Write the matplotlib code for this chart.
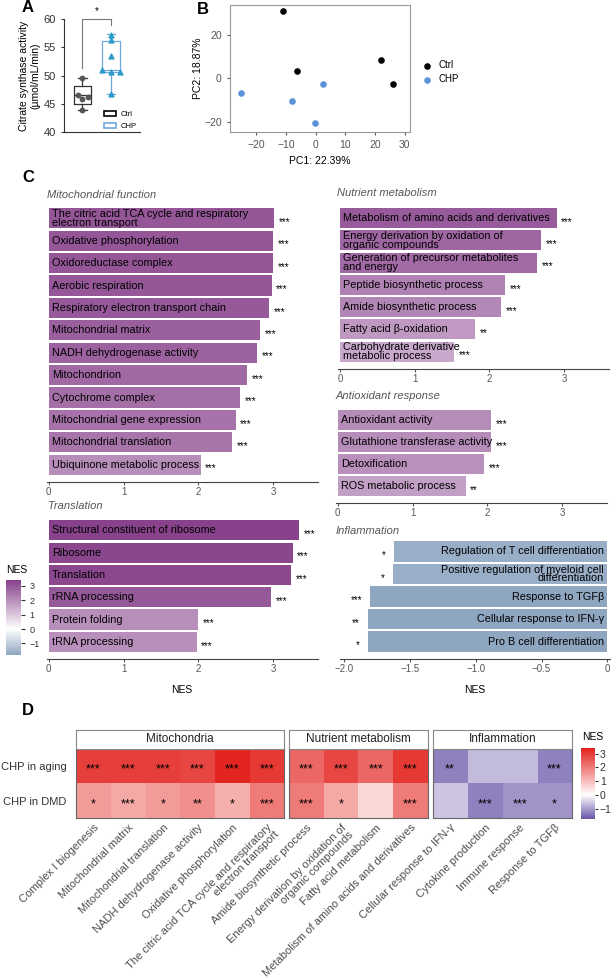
import numpy as np
import matplotlib
matplotlib.use("Agg")
import matplotlib.pyplot as plt
from matplotlib.colors import LinearSegmentedColormap, Normalize
from matplotlib.patches import Patch
import matplotlib.colorbar as mcolorbar

plt.rcParams['font.family'] = ['Liberation Sans', 'DejaVu Sans']

# ---------------- data ----------------
# A: citrate synthase activity
ctrl_cs = [49.6, 46.6, 46.3, 45.9, 43.9]
ctrl_jit = [0.0, -0.14, 0.19, 0.0, 0.0]
chp_cs = [57.2, 56.3, 53.4, 51.0, 50.6, 50.6, 46.7]
chp_jit = [0.0, 0.0, 0.0, -0.3, 0.0, 0.3, 0.0]
ctrl_box = dict(whislo=43.9, q1=45.0, med=46.5, q3=48.2, whishi=49.6)
chp_box = dict(whislo=46.7, q1=50.7, med=51.0, q3=56.2, whishi=57.3)

# B: PCA
pc1_ctrl = [-10.9, -6.4, 22.0, 26.0]
pc2_ctrl = [31.1, 3.4, 8.5, -2.5]
pc1_chp = [-25.3, -7.9, 2.6, -0.2]
pc2_chp = [-6.9, -10.3, -2.6, -20.8]

# C: GSEA NES
mito_terms = ["The citric acid TCA cycle and respiratory\nelectron transport",
              "Oxidative phosphorylation", "Oxidoreductase complex",
              "Aerobic respiration", "Respiratory electron transport chain",
              "Mitochondrial matrix", "NADH dehydrogenase activity",
              "Mitochondrion", "Cytochrome complex",
              "Mitochondrial gene expression", "Mitochondrial translation",
              "Ubiquinone metabolic process"]
mito_nes = [3.01, 3.0, 3.0, 2.98, 2.95, 2.83, 2.79, 2.65, 2.56, 2.5, 2.45, 2.03]
mito_sig = ["***"] * 12

trans_terms = ["Structural constituent of ribosome", "Ribosome", "Translation",
               "rRNA processing", "Protein folding", "tRNA processing"]
trans_nes = [3.35, 3.26, 3.24, 2.97, 2.0, 1.98]
trans_sig = ["***"] * 6

nutr_terms = ["Metabolism of amino acids and derivatives",
              "Energy derivation by oxidation of\norganic compounds",
              "Generation of precursor metabolites\nand energy",
              "Peptide biosynthetic process", "Amide biosynthetic process",
              "Fatty acid β-oxidation",
              "Carbohydrate derivative\nmetabolic process"]
nutr_nes = [2.9, 2.69, 2.64, 2.21, 2.16, 1.81, 1.53]
nutr_sig = ["***", "***", "***", "***", "***", "**", "***"]

anti_terms = ["Antioxidant activity", "Glutathione transferase activity",
              "Detoxification", "ROS metabolic process"]
anti_nes = [2.05, 2.05, 1.96, 1.71]
anti_sig = ["***", "***", "***", "**"]

infl_terms = ["Regulation of T cell differentiation",
              "Positive regulation of myeloid cell\ndifferentiation",
              "Response to TGFβ", "Cellular response to IFN-γ",
              "Pro B cell differentiation"]
infl_nes = [-1.62, -1.63, -1.80, -1.82, -1.82]
infl_sig = ["*", "*", "***", "**", "*"]

# D: heatmap
rows_d = ["CHP in aging", "CHP in DMD"]
hm_groups = ["Mitochondria", "Nutrient metabolism", "Inflammation"]
hm_terms = [
    ["Complex I biogenesis", "Mitochondrial matrix", "Mitochondrial translation",
     "NADH dehydrogenase activity", "Oxidative phosphorylation",
     "The citric acid TCA cycle and respiratory\nelectron transport"],
    ["Amide biosynthetic process",
     "Energy derivation by oxidation of\norganic compounds",
     "Fatty acid metabolism", "Metabolism of amino acids and derivatives"],
    ["Cellular response to IFN-γ", "Cytokine production", "Immune response",
     "Response to TGFβ"],
]
hm_aging = [[2.9, 2.9, 2.9, 2.8, 3.3, 3.0],
            [2.3, 2.8, 2.3, 3.0],
            [-1.3, -0.7, -0.7, -1.3]]
hm_dmd = [[1.5, 1.3, 1.5, 1.7, 1.2, 2.0],
          [2.0, 1.3, 0.6, 2.0],
          [-0.6, -1.3, -1.1, -1.1]]
sig_aging = [["***"] * 6, ["***"] * 4, ["**", "", "", "***"]]
sig_dmd = [["*", "***", "*", "**", "*", "***"],
           ["***", "*", "", "***"],
           ["", "***", "***", "*"]]

# ---------------- helpers ----------------
W, H = 613, 980


def box(l, t, r, b):
    return [l / W, 1 - b / H, (r - l) / W, (b - t) / H]


def diverging(low, high, vmin, vmax):
    f0 = (0 - vmin) / (vmax - vmin)
    cmap = LinearSegmentedColormap.from_list("c", [(0, low), (f0, "white"), (1, high)])
    return cmap, Normalize(vmin, vmax)


cmap_c, norm_c = diverging("#8FA6C1", "#86408A", -1.8, 3.4)
cmap_d, norm_d = diverging("#6A55A8", "#E3201B", -1.75, 3.4)

fig = plt.figure(figsize=(W / 100, H / 100), dpi=100)

for lab, x, y in [("A", 22, 8), ("B", 197, 9), ("C", 22, 177), ("D", 22, 710)]:
    fig.text(x / W, 1 - y / H, lab, fontsize=12, fontweight="bold", va="center")

# ---------------- A ----------------
axA = fig.add_axes(box(64, 19, 140, 132.3))
axA.bxp([ctrl_box], positions=[1], widths=0.6, showfliers=False,
        boxprops=dict(color="#333333", lw=0.9), whiskerprops=dict(color="#333333", lw=0.9),
        capprops=dict(color="#333333", lw=0.9), medianprops=dict(color="#333333", lw=0.9))
axA.bxp([chp_box], positions=[2], widths=0.6, showfliers=False,
        boxprops=dict(color="#6FA8DC", lw=0.9), whiskerprops=dict(color="#6FA8DC", lw=0.9),
        capprops=dict(color="#6FA8DC", lw=0.9), medianprops=dict(color="#6FA8DC", lw=0.9))
axA.scatter(1 + np.array(ctrl_jit), ctrl_cs, s=10, color="#555555", zorder=3)
axA.scatter(2 + np.array(chp_jit), chp_cs, s=12, marker="^", color="#2A9BC8", zorder=3)
axA.plot([1, 1, 2, 2], [51.3, 60, 60, 58.9], color="#777777", lw=0.8, clip_on=False)
axA.text(1.5, 60.6, "*", ha="center", va="bottom", fontsize=7)
axA.set_xlim(0.37, 3.0)
axA.set_ylim(40, 60)
axA.set_yticks([40, 45, 50, 55, 60])
axA.set_xticks([])
axA.tick_params(axis="y", labelsize=8, colors="#333333", length=2.5)
for s in ["top", "right"]:
    axA.spines[s].set_visible(False)
for s in ["left", "bottom"]:
    axA.spines[s].set_color("#333333")
axA.set_ylabel("Citrate synthase activity\n(µmol/mL/min)", fontsize=7.5, labelpad=2)
axA.legend(handles=[Patch(facecolor="white", edgecolor="black", lw=1.2, label="Ctrl"),
                    Patch(facecolor="white", edgecolor="#6FA8DC", lw=1.2, label="CHP")],
           loc="lower right", bbox_to_anchor=(1.05, -0.04), frameon=False, fontsize=5.5,
           handlelength=1.6, handleheight=0.7, labelspacing=0.6, handletextpad=0.6)

# ---------------- B ----------------
axB = fig.add_axes(box(230, 5, 410, 132))
axB.scatter(pc1_ctrl, pc2_ctrl, s=14, color="black", label="Ctrl")
axB.scatter(pc1_chp, pc2_chp, s=14, color="#5B93D8", label="CHP")
axB.set_xlim(-28.9, 31.8)
axB.set_ylim(-24.8, 33.9)
axB.set_xticks([-20, -10, 0, 10, 20, 30])
axB.set_yticks([-20, 0, 20])
axB.tick_params(labelsize=7.5, colors="#555555", length=2.5)
for s in axB.spines.values():
    s.set_color("#999999")
    s.set_linewidth(0.8)
axB.set_xlabel("PC1: 22.39%", fontsize=7.5, labelpad=4)
axB.set_ylabel("PC2: 18.87%", fontsize=7.5, labelpad=1)
axB.legend(loc="center left", bbox_to_anchor=(1.0, 0.47), frameon=False, fontsize=7,
           handletextpad=0.2, labelspacing=0.4, borderaxespad=0.3)


# ---------------- C ----------------
def nes_bars(rect, terms, nes, sig, title, title_xy, neg=False, xlabel=False):
    ax = fig.add_axes(box(*rect))
    n = len(nes)
    y = np.arange(n)
    ax.barh(y, nes, height=0.9, color=cmap_c(norm_c(np.array(nes))))
    ax.set_ylim(n - 0.5 + 0.27, -0.55)
    for yi, t, v, s in zip(y, terms, nes, sig):
        if neg:
            ax.text(-0.025, yi, t, ha="right", va="center", fontsize=7.8, linespacing=0.85)
            ax.text(v - 0.06, yi + 0.17, s, ha="right", va="center", fontsize=7)
        else:
            ax.text(0.04, yi, t, ha="left", va="center", fontsize=7.8, linespacing=0.85)
            ax.text(v + 0.06, yi + 0.17, s, ha="left", va="center", fontsize=7)
    if neg:
        ax.set_xlim(-2.03, 0.02)
        ax.set_xticks([-2, -1.5, -1, -0.5, 0])
        ax.set_xticklabels(["\u22122.0", "\u22121.5", "\u22121.0", "\u22120.5", "0"])
    else:
        ax.set_xlim(-0.03, 3.6)
        ax.set_xticks([0, 1, 2, 3])
    ax.set_yticks([])
    for s in ["top", "right", "left"]:
        ax.spines[s].set_visible(False)
    ax.spines["bottom"].set_color("#444444")
    ax.spines["bottom"].set_linewidth(0.8)
    ax.tick_params(axis="x", labelsize=7, colors="#555555", length=2, pad=1.5)
    if xlabel:
        ax.set_xlabel("NES", fontsize=7.5, labelpad=8)
    fig.text(title_xy[0] / W, 1 - title_xy[1] / H, title, fontsize=8, style="italic",
             color="#555555", va="center")
    return ax


nes_bars((46.5, 206, 318, 482), mito_terms, mito_nes, mito_sig,
         "Mitochondrial function", (47, 195))
nes_bars((46.5, 518, 318, 659), trans_terms, trans_nes, trans_sig,
         "Translation", (48, 506), xlabel=True)
nes_bars((337.8, 206, 609, 368.7), nutr_terms, nutr_nes, nutr_sig,
         "Nutrient metabolism", (337, 193))
nes_bars((335.5, 408, 607, 503), anti_terms, anti_nes, anti_sig,
         "Antioxidant response", (336, 396))
nes_bars((340, 539, 610, 659), infl_terms, infl_nes, infl_sig,
         "Inflammation", (336, 531), neg=True, xlabel=True)

caxC = fig.add_axes(box(6, 580, 21, 655))
cbC = mcolorbar.ColorbarBase(caxC, cmap=cmap_c, norm=norm_c, ticks=[-1, 0, 1, 2, 3])
cbC.outline.set_visible(False)
caxC.tick_params(labelsize=6.5, colors="#333333", length=3, pad=3)
fig.text(6 / W, 1 - 570 / H, "NES", fontsize=7.5, va="center")

# ---------------- D ----------------
grp_x = [(76, 284.3), (289, 427.7), (432.7, 571.7)]
for g, (x0, x1) in enumerate(grp_x):
    vals = np.array([hm_aging[g], hm_dmd[g]])
    ax = fig.add_axes(box(x0, 749, x1, 818.3))
    ax.imshow(vals, cmap=cmap_d, norm=norm_d, aspect="auto")
    for j in range(vals.shape[1]):
        ax.text(j, 0.1, sig_aging[g][j], ha="center", va="center", fontsize=9)
        ax.text(j, 1.1, sig_dmd[g][j], ha="center", va="center", fontsize=9)
    ax.set_xticks(range(vals.shape[1]))
    ax.set_xticklabels(hm_terms[g], rotation=45, ha="right", rotation_mode="anchor",
                       fontsize=8, color="#4D4D4D", linespacing=0.95)
    ax.tick_params(axis="x", length=0, pad=3)
    if g == 0:
        ax.set_yticks([0, 1])
        ax.set_yticklabels(rows_d, fontsize=8, color="#333333")
        ax.tick_params(axis="y", length=0, pad=7)
    else:
        ax.set_yticks([])
    for s in ax.spines.values():
        s.set_color("#666666")
        s.set_linewidth(0.8)
    sax = fig.add_axes(box(x0, 730, x1, 749))
    sax.set_xticks([])
    sax.set_yticks([])
    for s in sax.spines.values():
        s.set_color("#888888")
        s.set_linewidth(0.8)
    sax.text(0.5, 0.5, hm_groups[g], ha="center", va="center", fontsize=8.5,
             color="#222222", transform=sax.transAxes)

caxD = fig.add_axes(box(581, 748, 595, 819))
cbD = mcolorbar.ColorbarBase(caxD, cmap=cmap_d, norm=norm_d, ticks=[-1, 0, 1, 2, 3])
cbD.outline.set_visible(False)
caxD.tick_params(labelsize=7.5, colors="#333333", length=2, pad=1.5)
fig.text(582 / W, 1 - 737 / H, "NES", fontsize=7.5, va="center")

fig.savefig("out.png", dpi=100)
